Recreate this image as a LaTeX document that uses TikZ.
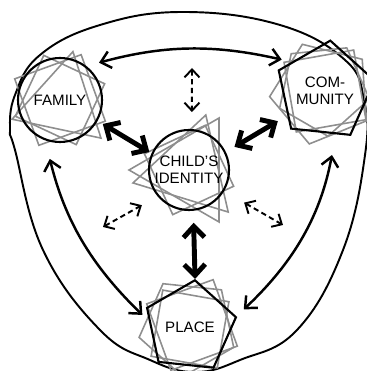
\documentclass[tikz,border=0pt]{standalone}
\usepackage{fontspec}
\setmainfont{Liberation Sans}
\usetikzlibrary{arrows.meta, shapes.geometric}
\definecolor{shape-gray}{HTML}{8E8E8E}

\begin{document}
\begin{tikzpicture}[x=0.02cm, y=0.02cm,
    every node/.style={font=\fontsize{8.6}{9.8}\selectfont, align=center, inner sep=0pt},
    ring/.style={draw, line width=1.2pt},
    deco/.style={draw=shape-gray, line width=0.9pt, regular polygon},
    link/.style={line width=1.4pt,
      {Straight Barb[length=1.9mm, width=3.4mm]}-{Straight Barb[length=1.9mm, width=3.4mm]}},
    strong/.style={line width=2.8pt,
      {Straight Barb[length=2.2mm, width=4.2mm]}-{Straight Barb[length=2.2mm, width=4.2mm]}},
    hint/.style={line width=1.1pt, dash pattern=on 3pt off 2pt,
      {Straight Barb[length=1.6mm, width=3mm]}-{Straight Barb[length=1.6mm, width=3mm]}}]
    \useasboundingbox (0, 0) rectangle (367, 371);
    \clip (0, 0) rectangle (367, 371);

    % outer boundary
    \draw[line width=1.1pt] plot[smooth cycle, tension=0.7] coordinates {
      (183, 359) (100, 346) (40, 316) (15, 276) (10, 241) (15, 221)
      (43, 121) (100, 41) (150, 11) (195, -1) (240, 11) (297, 41)
      (343, 121) (365, 216) (364, 271) (345, 311) (280, 346)};

    % gray outlines
    \node[deco, regular polygon sides=4, minimum size=2.0cm, shape border rotate=20] (fam-g1) at (60, 271) {};
    \node[deco, regular polygon sides=4, minimum size=1.9cm, shape border rotate=-25] (fam-g2) at (60, 271) {};
    \node[deco, regular polygon sides=3, minimum size=2.1cm, shape border rotate=-12] (fam-g3) at (62, 268) {};
    \node[deco, regular polygon sides=3, minimum size=2.3cm, shape border rotate=-17] (child-g1) at (189, 201) {};
    \node[deco, regular polygon sides=3, minimum size=2.4cm, shape border rotate=210] (child-g2) at (189, 201) {};
    \node[deco, regular polygon sides=4, minimum size=1.9cm, shape border rotate=25] (child-g3) at (189, 201) {};
    \node[deco, regular polygon sides=5, minimum size=2.1cm, shape border rotate=22] (com-g1) at (322, 278) {};
    \node[deco, regular polygon sides=4, minimum size=2.0cm, shape border rotate=10] (com-g2) at (325, 280) {};
    \node[deco, regular polygon sides=5, minimum size=1.9cm, shape border rotate=-30] (com-g3) at (323, 282) {};
    \node[deco, regular polygon sides=4, minimum size=2.0cm, shape border rotate=20] (place-g1) at (192, 46) {};
    \node[deco, regular polygon sides=5, minimum size=2.0cm, shape border rotate=30] (place-g2) at (188, 44) {};
    \node[deco, regular polygon sides=4, minimum size=1.9cm, shape border rotate=-10] (place-g3) at (190, 42) {};

    % the four places
    \node[ring, circle, minimum size=1.68cm] (family) at (60, 271) {FAMILY};
    \node[ring, circle, minimum size=1.6cm] (child) at (189, 201) {CHILD'S\\IDENTITY};
    \node[ring, regular polygon, regular polygon sides=5, minimum size=1.96cm,
      shape border rotate=-6] (community) at (325, 280) {COM-\\MUNITY};
    \node[ring, regular polygon, regular polygon sides=5, minimum size=1.88cm,
      shape border rotate=-6] (place) at (190, 44) {PLACE};

    \coordinate (top-free) at (192, 303);
    \coordinate (left-free) at (103, 144);
    \coordinate (right-free) at (283, 146);

    % links between them
    \draw[link, shorten <=0.26cm, shorten >=0.2cm] (family.52) to[bend left=14] (community.139);
    \draw[link, shorten <=0.38cm, shorten >=0.18cm] (family.250) to[bend right=16] (place.172);
    \draw[link, shorten <=0.42cm, shorten >=0.2cm] (community.284) to[bend left=18] (place.13);
    \draw[strong, shorten <=0.12cm, shorten >=0.05cm] (family.-29) -- (child.156);
    \draw[strong, shorten <=0.2cm, shorten >=0.22cm] (child.26) -- (community.213);
    \draw[strong, shorten <=0.24cm] (child.-84) -- (place.84);
    \draw[hint, shorten >=0.34cm] (top-free) -- (child.86);
    \draw[hint, shorten >=0.36cm] (left-free) -- (child.220);
    \draw[hint, shorten <=0.46cm] (child.-31) -- (right-free);
  \end{tikzpicture}
\end{document}
